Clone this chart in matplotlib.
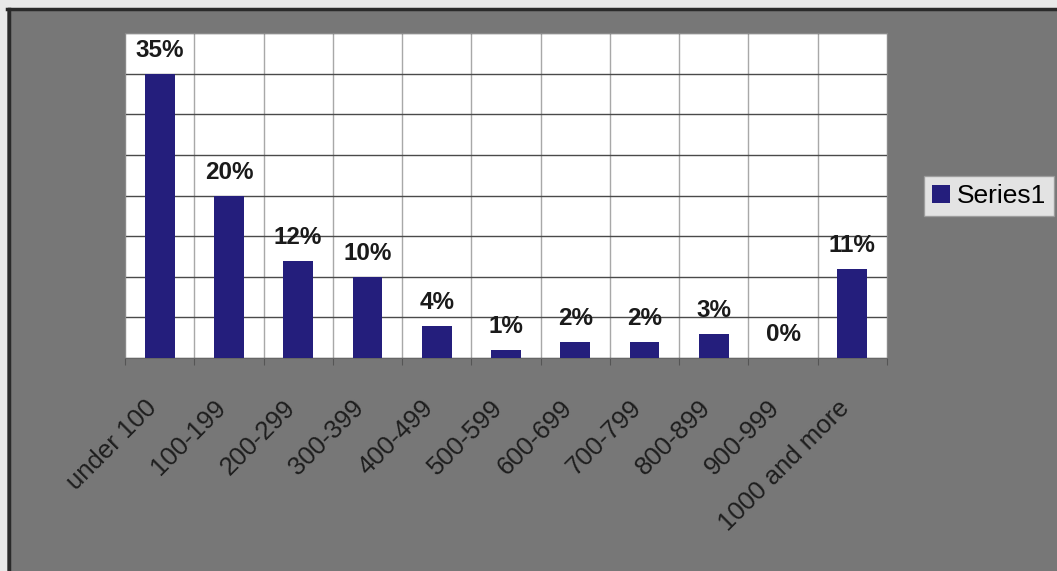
import matplotlib
matplotlib.use("Agg")
import matplotlib.pyplot as plt
from matplotlib.patches import Rectangle
from matplotlib.transforms import ScaledTranslation
import numpy as np

categories = ["under 100", "100-199", "200-299", "300-399", "400-499", "500-599",
              "600-699", "700-799", "800-899", "900-999", "1000 and more"]
values = [35, 20, 12, 10, 4, 1, 2, 2, 3, 0, 11]
series_name = "Series1"

W, H, DPI = 1057, 571, 100
BG = "#777777"
BAR = "#241e7c"

plt.rcParams["font.family"] = ["Liberation Sans", "DejaVu Sans"]

fig = plt.figure(figsize=(W / DPI, H / DPI), dpi=DPI, facecolor=BG)

# light margin along the top and left, with a dark frame line
fig.patches.append(Rectangle((0, 1 - 8 / H), 1, 8 / H, transform=fig.transFigure,
                             facecolor="#e9e9e9", edgecolor="none", zorder=0))
fig.patches.append(Rectangle((0, 0), 7 / W, 1, transform=fig.transFigure,
                             facecolor="#e9e9e9", edgecolor="none", zorder=0))
fig.add_artist(plt.Line2D([7 / W, 1], [1 - 9 / H, 1 - 9 / H], transform=fig.transFigure,
                          color="#2a2a2a", lw=2.5))
fig.add_artist(plt.Line2D([8.5 / W, 8.5 / W], [0, 1 - 9 / H], transform=fig.transFigure,
                          color="#2a2a2a", lw=2.5))

left, right, top, bottom = 125, 887, 33, 358
ax = fig.add_axes([left / W, 1 - bottom / H, (right - left) / W, (bottom - top) / H])
ax.set_facecolor("white")

x = np.arange(len(categories))
bars = ax.bar(x, values, width=0.43, color=BAR, zorder=3, label=series_name)

ax.set_xlim(-0.5, len(categories) - 0.5)
ax.set_ylim(0, 40)

# horizontal gridlines every 5 %, vertical ones between categories
ax.set_yticks(np.arange(0, 41, 5))
ax.set_xticks(np.arange(-0.5, len(categories), 1.0))
ax.grid(axis="y", color="#4a4a4a", lw=1.0, zorder=1)
ax.grid(axis="x", color="#a8a8a8", lw=1.0, zorder=1)
ax.tick_params(axis="y", length=0, labelleft=False)
ax.tick_params(axis="x", length=5, color="#555555", labelbottom=False, direction="out")

for s in ["top", "right", "left"]:
    ax.spines[s].set_color("#8a8a8a")
ax.spines["bottom"].set_color("#666666")

# value labels above bars
for xi, v in zip(x, values):
    ax.annotate(f"{v}%", (xi, v), xytext=(0, 12), textcoords="offset points",
                ha="center", va="baseline", fontsize=17.5, fontweight="bold",
                color="#1a1a1a")

# rotated category labels
lab_tr = ax.get_xaxis_transform() + ScaledTranslation(-7 / DPI, -46 / DPI, fig.dpi_scale_trans)
for xi, name in zip(x, categories):
    ax.text(xi, 0, name, transform=lab_tr, rotation=45, rotation_mode="anchor",
            ha="right", va="center", fontsize=18.5, color="#1e1e1e")

leg = fig.legend(handles=[bars], labels=[series_name], loc="center left",
                 bbox_to_anchor=(924 / W, 1 - 196 / H), fontsize=19,
                 frameon=True, fancybox=False, borderpad=0.3,
                 handlelength=0.7, handleheight=0.7, handletextpad=0.25,
                 borderaxespad=0)
leg.get_frame().set_facecolor("white")
leg.get_frame().set_edgecolor("#9a9a9a")
leg.get_frame().set_linewidth(1.0)

fig.savefig("out.png", dpi=DPI, facecolor=fig.get_facecolor())
